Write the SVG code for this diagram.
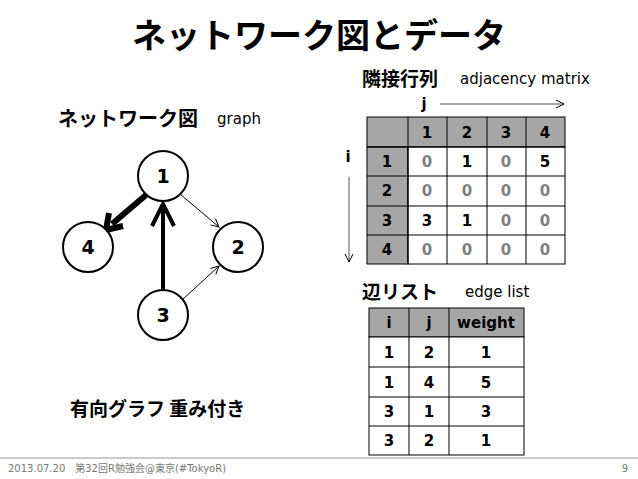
<svg xmlns="http://www.w3.org/2000/svg" width="638" height="479" viewBox="0 0 638 479">
<style>
text{font-family:"DejaVu Sans","Noto Sans CJK JP",sans-serif;}
.b{font-weight:bold;}
.c{text-anchor:middle;}
.jp{font-family:"Noto Sans CJK JP",sans-serif;font-weight:bold;}
.n{fill:#fff;stroke:#000;stroke-width:2;}
.g{fill:#a6a6a6;stroke:#000;stroke-width:1;}
.w{fill:#fff;stroke:#000;stroke-width:1;}
.z{fill:#808080;}
</style>
<defs>
<marker id="a" markerWidth="10" markerHeight="10" refX="9" refY="5" orient="auto" markerUnits="userSpaceOnUse"><path d="M1,1 L9,5 L1,9" fill="none" stroke="#000" stroke-width="1"/></marker>
</defs>
<rect width="638" height="479" fill="#fff"/>
<text x="319" y="48" class="jp c" font-size="34">ネットワーク図とデータ</text>
<text x="58" y="126" class="jp" font-size="20">ネットワーク図</text>
<text x="217" y="124" font-size="15">graph</text>
<text x="362" y="86" class="jp" font-size="19">隣接行列</text>
<text x="460" y="84" font-size="15">adjacency matrix</text>
<text x="424" y="109" class="b c" font-size="15">j</text>
<line x1="440" y1="104" x2="564" y2="104" stroke="#555" marker-end="url(#a)"/>
<text x="348" y="162" class="b c" font-size="15">i</text>
<line x1="349" y1="177" x2="349" y2="262" stroke="#555" marker-end="url(#a)"/>
<g id="connectors">
<line x1="180" y1="194" x2="219" y2="227" stroke="#000" stroke-width="1" marker-end="url(#a)"/>
<line x1="182" y1="300" x2="219" y2="266" stroke="#000" stroke-width="1" marker-end="url(#a)"/>
<line x1="163" y1="290" x2="163" y2="206" stroke="#000" stroke-width="4"/>
<path d="M152,226 L163,204 L174,226" fill="none" stroke="#000" stroke-width="4"/>
<line x1="146" y1="195" x2="112" y2="224" stroke="#000" stroke-width="6"/>
<path d="M109,213 L106,230 L123,226" fill="none" stroke="#000" stroke-width="6" stroke-linejoin="miter"/>
</g>
<g id="n1"><circle cx="163" cy="176" r="25" class="n"/><text x="163" y="183" class="b c" font-size="19">1</text></g>
<g id="n4"><circle cx="88" cy="247" r="25" class="n"/><text x="88" y="254" class="b c" font-size="19">4</text></g>
<g id="n2"><circle cx="238" cy="247" r="25" class="n"/><text x="238" y="254" class="b c" font-size="19">2</text></g>
<g id="n3"><circle cx="163" cy="315" r="25" class="n"/><text x="163" y="322" class="b c" font-size="19">3</text></g>
<g id="matrix" font-size="15">
<rect x="367" y="117" width="198" height="30" class="g"/>
<rect x="367" y="147" width="41" height="117" class="g"/>
<rect x="408" y="147" width="157" height="117" class="w"/>
<path d="M408,117V264M447,117V264M487,117V264M526,117V264M367,147H565M367,176H565M367,206H565M367,235H565" stroke="#000" fill="none"/>
<g class="b c">
<text x="427" y="138">1</text><text x="467" y="138">2</text><text x="506" y="138">3</text><text x="545" y="138">4</text>
<text x="387" y="167">1</text><text x="387" y="196">2</text><text x="387" y="226">3</text><text x="387" y="255">4</text>
<text x="427" y="167" class="z">0</text><text x="467" y="167">1</text><text x="506" y="167" class="z">0</text><text x="545" y="167">5</text>
<text x="427" y="196" class="z">0</text><text x="467" y="196" class="z">0</text><text x="506" y="196" class="z">0</text><text x="545" y="196" class="z">0</text>
<text x="427" y="226">3</text><text x="467" y="226">1</text><text x="506" y="226" class="z">0</text><text x="545" y="226" class="z">0</text>
<text x="427" y="255" class="z">0</text><text x="467" y="255" class="z">0</text><text x="506" y="255" class="z">0</text><text x="545" y="255" class="z">0</text>
</g>
</g>
<text x="362" y="299" class="jp" font-size="19">辺リスト</text>
<text x="465" y="297" font-size="15">edge list</text>
<g id="edgelist" font-size="15">
<rect x="369" y="308" width="155" height="29" class="g"/>
<rect x="369" y="337" width="155" height="118" class="w"/>
<path d="M409,308V455M449,308V455M369,367H524M369,397H524M369,426H524" stroke="#000" fill="none"/>
<g class="b c">
<text x="389" y="328">i</text><text x="429" y="328">j</text><text x="486" y="328">weight</text>
<text x="389" y="358">1</text><text x="429" y="358">2</text><text x="486" y="358">1</text>
<text x="389" y="388">1</text><text x="429" y="388">4</text><text x="486" y="388">5</text>
<text x="389" y="417">3</text><text x="429" y="417">1</text><text x="486" y="417">3</text>
<text x="389" y="446">3</text><text x="429" y="446">2</text><text x="486" y="446">1</text>
</g>
</g>
<text x="70" y="416" class="jp" font-size="19">有向グラフ 重み付き</text>
<line x1="0" y1="458" x2="638" y2="458" stroke="#999"/>
<text x="8" y="472" font-size="10" fill="#777" font-family="'DejaVu Sans','Noto Sans CJK JP',sans-serif">2013.07.20　第32回R勉強会@東京(#TokyoR)</text>
<text x="628" y="472" font-size="10" fill="#777" text-anchor="end">9</text>
</svg>
